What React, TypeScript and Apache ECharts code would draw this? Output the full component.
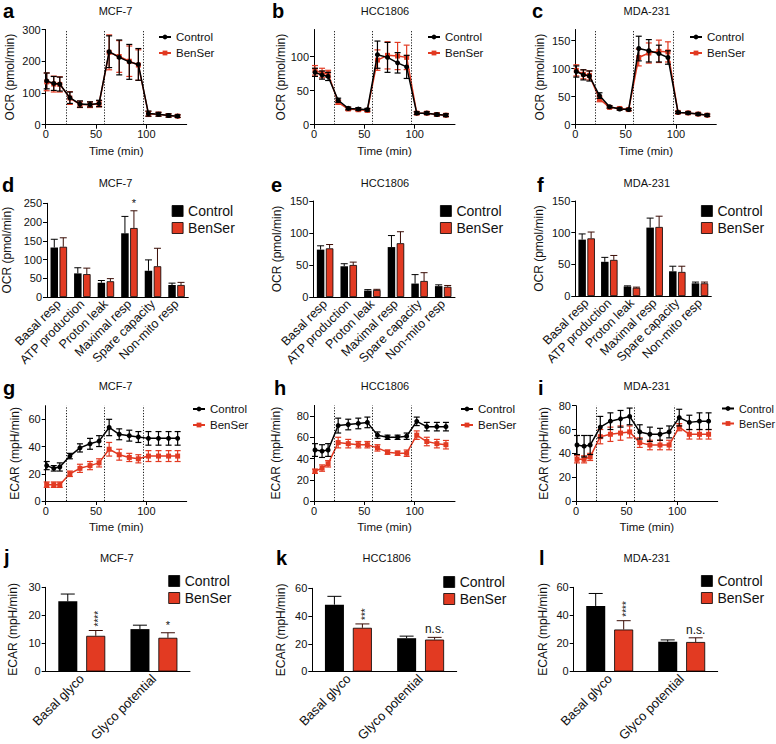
import React, { useEffect, useRef } from 'react';
import * as echarts from 'echarts';

const FONT = '"Liberation Sans", Arial, Helvetica, sans-serif';
const RED = '#e23a22';
const INK = '#111111';

// ---------- shared ----------
const timePoints = [1, 8, 14, 24, 34, 44, 53, 63, 73, 83, 92, 102, 112, 122, 131];
const injectionTimes = [20, 58, 97];
const timeTicks = [0, 50, 100];
const ocrCats = ['Basal resp', 'ATP production', 'Proton leak', 'Maximal resp', 'Spare capacity', 'Non-mito resp'];
const ecarCats = ['Basal glyco', 'Glyco potential'];

// ---------- a: OCR MCF-7 ----------
const ocrMcfCtrl = [138, 130, 128, 85, 65, 64, 67, 230, 212, 198, 190, 35, 33, 29, 27];
const ocrMcfCtrlErr = [25, 22, 22, 18, 10, 8, 10, 50, 55, 55, 50, 8, 6, 5, 4];
const ocrMcfBen = [135, 128, 127, 84, 64, 63, 66, 228, 215, 200, 188, 34, 33, 29, 27];
const ocrMcfBenErr = [28, 25, 24, 20, 10, 9, 10, 55, 50, 48, 48, 8, 6, 5, 4];
const ocrMcfTicks = [0, 100, 200, 300];

// ---------- b: OCR HCC1806 ----------
const ocrHccCtrl = [77, 73, 71, 36, 24, 23, 22, 103, 99, 91, 85, 17, 17, 15, 14];
const ocrHccCtrlErr = [6, 6, 6, 3, 2, 2, 2, 20, 22, 15, 17, 2, 2, 2, 2];
const ocrHccBen = [80, 76, 75, 33, 23, 22, 21, 95, 102, 101, 99, 17, 17, 15, 14];
const ocrHccBenErr = [7, 7, 5, 3, 2, 2, 2, 15, 20, 20, 18, 2, 2, 2, 2];
const ocrHccTicks = [0, 50, 100];

// ---------- c: OCR MDA-231 ----------
const ocrMdaCtrl = [95, 89, 87, 52, 32, 28, 27, 136, 132, 127, 120, 22, 21, 19, 17];
const ocrMdaCtrlErr = [10, 9, 9, 5, 2, 2, 2, 22, 20, 15, 12, 2, 2, 2, 2];
const ocrMdaBen = [97, 90, 88, 46, 31, 29, 27, 120, 128, 131, 130, 22, 21, 19, 17];
const ocrMdaBenErr = [10, 8, 8, 5, 2, 2, 2, 15, 18, 20, 18, 2, 2, 2, 2];
const ocrMdaTicks = [0, 50, 100, 150];

// ---------- d/e/f: OCR parameters ----------
const mcfParCtrl = [132, 63, 38, 170, 70, 32];
const mcfParCtrlErr = [22, 15, 6, 45, 29, 5];
const mcfParBen = [134, 61, 42, 184, 82, 32];
const mcfParBenErr = [24, 16, 7, 46, 48, 7];
const mcfParSig = ['', '', '', '*', '', ''];
const mcfParTicks = [0, 50, 100, 150, 200, 250];

const hccParCtrl = [74, 48, 10, 78, 21, 17];
const hccParCtrlErr = [6, 4, 1.5, 18, 14, 2];
const hccParBen = [76, 50, 11, 84, 25, 16];
const hccParBenErr = [6, 4.5, 1, 18, 13, 2];
const hccParTicks = [0, 50, 100, 150];

const mdaParCtrl = [89, 54, 15, 108, 39, 20];
const mdaParCtrlErr = [9, 7, 1, 15, 8, 2];
const mdaParBen = [91, 57, 13, 109, 38, 20];
const mdaParBenErr = [10, 7, 1, 17, 9, 2];
const mdaParTicks = [0, 50, 100, 150];

// ---------- g/h/i: ECAR time courses ----------
const ecarMcfCtrl = [26, 24, 25, 33, 39, 42, 44, 54, 49, 48, 47, 46, 46, 46, 46];
const ecarMcfCtrlErr = [3, 2, 3, 2, 3, 4, 4, 6, 4, 4, 4, 5, 5, 5, 5];
const ecarMcfBen = [12, 12, 12, 20, 24, 26, 28, 38, 34, 32, 31, 33, 33, 33, 33];
const ecarMcfBenErr = [2, 2, 2, 2, 3, 3, 3, 5, 4, 3, 3, 4, 4, 4, 4];
const ecarMcfTicks = [0, 20, 40, 60];

const ecarHccCtrl = [48, 47, 48, 71, 72, 73, 74, 62, 60, 60, 61, 75, 70, 70, 70];
const ecarHccCtrlErr = [6, 6, 6, 7, 5, 5, 5, 3, 2, 2, 3, 4, 4, 4, 4];
const ecarHccBen = [28, 31, 35, 55, 54, 53, 53, 50, 46, 45, 45, 62, 56, 54, 53];
const ecarHccBenErr = [2, 3, 3, 5, 4, 3, 3, 3, 2, 2, 3, 4, 4, 4, 4];
const ecarHccTicks = [0, 20, 40, 60, 80];

const ecarMdaCtrl = [47, 46, 47, 62, 67, 69, 71, 58, 56, 56, 58, 70, 66, 67, 67];
const ecarMdaCtrlErr = [8, 9, 8, 9, 7, 7, 7, 6, 6, 5, 5, 7, 6, 7, 7];
const ecarMdaBen = [35, 35, 37, 54, 56, 57, 58, 49, 47, 47, 47, 62, 56, 56, 56];
const ecarMdaBenErr = [3, 3, 3, 6, 6, 6, 5, 4, 4, 4, 4, 3, 4, 4, 4];
const ecarMdaTicks = [0, 20, 40, 60, 80];

// ---------- j/k/l: ECAR parameters ----------
const mcfGlyCtrl = [25, 15.1];
const mcfGlyCtrlErr = [2.6, 1.4];
const mcfGlyBen = [12.7, 12];
const mcfGlyBenErr = [1.9, 1.8];
const mcfGlySig = ['****', '*'];
const mcfGlyTicks = [0, 10, 20, 30];

const hccGlyCtrl = [48.2, 24];
const hccGlyCtrlErr = [6, 1.5];
const hccGlyBen = [31.5, 23];
const hccGlyBenErr = [2.8, 1.6];
const hccGlySig = ['***', 'n.s.'];
const hccGlyTicks = [0, 20, 40, 60];

const mdaGlyCtrl = [46.7, 21.2];
const mdaGlyCtrlErr = [8.9, 1.3];
const mdaGlyBen = [29.9, 21];
const mdaGlyBenErr = [6.3, 3];
const mdaGlySig = ['****', 'n.s.'];
const mdaGlyTicks = [0, 20, 40, 60];

// ---------- panel definitions ----------
type LineP = {
  letter: string; title: string; yName: string; yMax: number; ticks: number[];
  ctrl: number[]; ctrlErr: number[]; ben: number[]; benErr: number[];
  grid: any; legend: any; legendSize: number; yGap: number; titleX: number; titleY: number; letterX: number; letterY: number;
};
type BarP = {
  letter: string; title: string; yName: string; yMax: number; ticks: number[]; cats: string[];
  ctrl: number[]; ctrlErr: number[]; ben: number[]; benErr: number[]; sig: string[];
  grid: any; legend: any; yGap: number; titleX: number; titleY: number; letterX: number; letterY: number;
  barW: number; barGap: number; cap: number; labelSize: number;
};

const linePanels: LineP[] = [
  { letter: 'a', title: 'MCF-7', yName: 'OCR (pmol/min)', yMax: 300, ticks: ocrMcfTicks,
    ctrl: ocrMcfCtrl, ctrlErr: ocrMcfCtrlErr, ben: ocrMcfBen, benErr: ocrMcfBenErr,
    grid: { left: 45.7, top: 29.5, width: 141, height: 95.2 }, legend: { left: 158, top: 31 }, legendSize: 11.5, yGap: 30,
    titleX: 115.5, titleY: 11, letterX: 3, letterY: 10.5 },
  { letter: 'b', title: 'HCC1806', yName: 'OCR (pmol/min)', yMax: 140, ticks: ocrHccTicks,
    ctrl: ocrHccCtrl, ctrlErr: ocrHccCtrlErr, ben: ocrHccBen, benErr: ocrHccBenErr,
    grid: { left: 314, top: 29.5, width: 141, height: 95.2 }, legend: { left: 427, top: 31 }, legendSize: 11.5, yGap: 27,
    titleX: 385, titleY: 11, letterX: 272, letterY: 10.5 },
  { letter: 'c', title: 'MDA-231', yName: 'OCR (pmol/min)', yMax: 170, ticks: ocrMdaTicks,
    ctrl: ocrMdaCtrl, ctrlErr: ocrMdaCtrlErr, ben: ocrMdaBen, benErr: ocrMdaBenErr,
    grid: { left: 575.3, top: 29.5, width: 141, height: 95.2 }, legend: { left: 689, top: 31 }, legendSize: 11.5, yGap: 29,
    titleX: 646.8, titleY: 11, letterX: 532, letterY: 10.5 },
  { letter: 'g', title: 'MCF-7', yName: 'ECAR (mpH/min)', yMax: 70, ticks: ecarMcfTicks,
    ctrl: ecarMcfCtrl, ctrlErr: ecarMcfCtrlErr, ben: ecarMcfBen, benErr: ecarMcfBenErr,
    grid: { left: 45.7, top: 405.7, width: 141, height: 95.3 }, legend: { left: 192, top: 403 }, legendSize: 11.5, yGap: 25,
    titleX: 115.5, titleY: 386, letterX: 3, letterY: 388 },
  { letter: 'h', title: 'HCC1806', yName: 'ECAR (mpH/min)', yMax: 90, ticks: ecarHccTicks,
    ctrl: ecarHccCtrl, ctrlErr: ecarHccCtrlErr, ben: ecarHccBen, benErr: ecarHccBenErr,
    grid: { left: 314, top: 405.4, width: 141, height: 95.6 }, legend: { left: 460, top: 403 }, legendSize: 11.5, yGap: 32,
    titleX: 385, titleY: 386, letterX: 274, letterY: 388 },
  { letter: 'i', title: 'MDA-231', yName: 'ECAR (mpH/min)', yMax: 80, ticks: ecarMdaTicks,
    ctrl: ecarMdaCtrl, ctrlErr: ecarMdaCtrlErr, ben: ecarMdaBen, benErr: ecarMdaBenErr,
    grid: { left: 576, top: 405.7, width: 141.7, height: 95.3 }, legend: { left: 721, top: 403 }, legendSize: 10.8, yGap: 26,
    titleX: 646.8, titleY: 386, letterX: 538, letterY: 388 },
];

const barPanels: BarP[] = [
  { letter: 'd', title: 'MCF-7', yName: 'OCR (pmol/min)', yMax: 250, ticks: mcfParTicks, cats: ocrCats,
    ctrl: mcfParCtrl, ctrlErr: mcfParCtrlErr, ben: mcfParBen, benErr: mcfParBenErr, sig: mcfParSig,
    grid: { left: 45.7, top: 203.3, width: 142.6, height: 93.7 }, legend: { left: 171.7, top: 204 }, yGap: 34,
    titleX: 115.5, titleY: 183, letterX: 2, letterY: 184.5, barW: 7.5, barGap: 1.5, cap: 3.5, labelSize: 12.5 },
  { letter: 'e', title: 'HCC1806', yName: 'OCR (pmol/min)', yMax: 150, ticks: hccParTicks, cats: ocrCats,
    ctrl: hccParCtrl, ctrlErr: hccParCtrlErr, ben: hccParBen, benErr: hccParBenErr, sig: ['', '', '', '', '', ''],
    grid: { left: 313.3, top: 201, width: 141.7, height: 96 }, legend: { left: 440, top: 204 }, yGap: 30,
    titleX: 385, titleY: 183, letterX: 271, letterY: 184.5, barW: 7.5, barGap: 1.5, cap: 3.5, labelSize: 12.5 },
  { letter: 'f', title: 'MDA-231', yName: 'OCR (pmol/min)', yMax: 150, ticks: mdaParTicks, cats: ocrCats,
    ctrl: mdaParCtrl, ctrlErr: mdaParCtrlErr, ben: mdaParBen, benErr: mdaParBenErr, sig: ['', '', '', '', '', ''],
    grid: { left: 575.3, top: 201, width: 136, height: 95 }, legend: { left: 701, top: 204 }, yGap: 30,
    titleX: 646.8, titleY: 183, letterX: 537, letterY: 184.5, barW: 7.5, barGap: 1.5, cap: 3.5, labelSize: 12.5 },
  { letter: 'j', title: 'MCF-7', yName: 'ECAR (mpH/min)', yMax: 30, ticks: mcfGlyTicks, cats: ecarCats,
    ctrl: mcfGlyCtrl, ctrlErr: mcfGlyCtrlErr, ben: mcfGlyBen, benErr: mcfGlyBenErr, sig: mcfGlySig,
    grid: { left: 45.7, top: 587.3, width: 144.3, height: 94.4 }, legend: { left: 168.3, top: 574 }, yGap: 27,
    titleX: 116.7, titleY: 558, letterX: 4, letterY: 556.5, barW: 19, barGap: 9, cap: 7, labelSize: 13 },
  { letter: 'k', title: 'HCC1806', yName: 'ECAR (mpH/min)', yMax: 60, ticks: hccGlyTicks, cats: ecarCats,
    ctrl: hccGlyCtrl, ctrlErr: hccGlyCtrlErr, ben: hccGlyBen, benErr: hccGlyBenErr, sig: hccGlySig,
    grid: { left: 312.3, top: 588.3, width: 144.4, height: 93.4 }, legend: { left: 443.3, top: 575 }, yGap: 25,
    titleX: 386.7, titleY: 558, letterX: 276, letterY: 557.5, barW: 19, barGap: 9, cap: 7, labelSize: 13 },
  { letter: 'l', title: 'MDA-231', yName: 'ECAR (mpH/min)', yMax: 60, ticks: mdaGlyTicks, cats: ecarCats,
    ctrl: mdaGlyCtrl, ctrlErr: mdaGlyCtrlErr, ben: mdaGlyBen, benErr: mdaGlyBenErr, sig: mdaGlySig,
    grid: { left: 573.7, top: 587.3, width: 144, height: 95 }, legend: { left: 701, top: 574 }, yGap: 25,
    titleX: 646.8, titleY: 558, letterX: 539, letterY: 557.5, barW: 19, barGap: 9, cap: 7, labelSize: 13 },
];

// ---------- renderers ----------
function lineErr(color: string) {
  return (params: any, api: any) => {
    const x = api.value(0), y = api.value(1), e = api.value(2);
    const t = api.coord([x, y + e]);
    const b = api.coord([x, y - e]);
    const st = { stroke: color, lineWidth: 1.2 };
    const c = 3;
    return {
      type: 'group',
      children: [
        { type: 'line', shape: { x1: t[0], y1: t[1], x2: b[0], y2: b[1] }, style: st },
        { type: 'line', shape: { x1: t[0] - c, y1: t[1], x2: t[0] + c, y2: t[1] }, style: st },
        { type: 'line', shape: { x1: b[0] - c, y1: b[1], x2: b[0] + c, y2: b[1] }, style: st },
      ],
    };
  };
}

function barErr(color: string, offset: number, cap: number, sig: string[] | null) {
  return (params: any, api: any) => {
    const i = api.value(0), v = api.value(1), e = api.value(2);
    const base = api.coord([i, v]);
    const top = api.coord([i, v + e]);
    const x = base[0] + offset;
    const st = { stroke: color, lineWidth: 1 };
    const children: any[] = [
      { type: 'line', shape: { x1: x, y1: base[1], x2: x, y2: top[1] }, style: st },
      { type: 'line', shape: { x1: x - cap, y1: top[1], x2: x + cap, y2: top[1] }, style: st },
    ];
    const s = sig ? sig[params.dataIndex] : '';
    if (s) {
      if (s === 'n.s.' || s.length === 1) {
        children.push({ type: 'text', x, y: top[1] - 2,
          style: { text: s, align: 'center', verticalAlign: 'bottom', fontSize: s.length === 1 ? 11 : 12, fontFamily: FONT, fill: INK } });
      } else {
        children.push({ type: 'text', x: x + 3, y: top[1] - 4, rotation: Math.PI / 2,
          style: { text: s, align: 'left', verticalAlign: 'middle', fontSize: 10, fontFamily: FONT, fill: INK } });
      }
    }
    return { type: 'group', children };
  };
}

function buildOption() {
  const grid: any[] = [], xAxis: any[] = [], yAxis: any[] = [], series: any[] = [], legend: any[] = [], graphic: any[] = [];
  const lineAxis = { show: true, lineStyle: { color: '#000', width: 1 } };
  const tickStyle = { lineStyle: { color: '#000', width: 1 } };
  const labelStyle = { color: INK, fontSize: 11, fontFamily: FONT, fontWeight: 'normal' };

  const addText = (p: any) => {
    graphic.push({ type: 'text', x: p.titleX, y: p.titleY,
      style: { text: p.title, align: 'center', verticalAlign: 'middle', fontSize: 11, fontFamily: FONT, fill: INK } });
    graphic.push({ type: 'text', x: p.letterX, y: p.letterY,
      style: { text: p.letter, align: 'left', verticalAlign: 'middle', fontSize: 20, fontWeight: 'bold', fontFamily: FONT, fill: '#000' } });
  };

  const yAx = (gi: number, p: any) => ({
    type: 'value', gridIndex: gi, min: 0, max: p.yMax, interval: p.ticks[1] - p.ticks[0],
    name: p.yName, nameLocation: 'middle', nameGap: p.yGap,
    nameTextStyle: { fontSize: 12, fontFamily: FONT, color: INK, fontWeight: 'normal' },
    axisLine: lineAxis,
    axisTick: { show: true, length: 4, customValues: p.ticks, ...tickStyle },
    axisLabel: { ...labelStyle, margin: 5, customValues: p.ticks },
    splitLine: { show: false },
  });

  let gi = 0;
  for (const p of linePanels) {
    grid.push({ ...p.grid, containLabel: false });
    xAxis.push({
      type: 'value', gridIndex: gi, min: 0, max: 140, interval: 50,
      name: 'Time (min)', nameLocation: 'middle', nameGap: 20,
      nameTextStyle: { fontSize: 11.5, fontFamily: FONT, color: INK, fontWeight: 'normal' },
      axisLine: lineAxis,
      axisTick: { show: true, length: 4, customValues: timeTicks, ...tickStyle },
      axisLabel: { ...labelStyle, margin: 4, customValues: timeTicks },
      splitLine: { show: false },
    });
    yAxis.push(yAx(gi, p));
    series.push({
      type: 'line', name: 'BenSer', xAxisIndex: gi, yAxisIndex: gi,
      data: timePoints.map((t, i) => [t, p.ben[i]]),
      color: RED, symbol: 'rect', symbolSize: 5, lineStyle: { width: 1.5, color: RED },
      itemStyle: { color: RED }, z: 2,
      markLine: {
        silent: true, symbol: ['none', 'none'], label: { show: false },
        lineStyle: { color: '#000', type: [1.2, 1.6], width: 0.9 },
        emphasis: { disabled: true },
        data: injectionTimes.map((x) => ({ xAxis: x })),
      },
    });
    series.push({
      type: 'custom', name: 'errB', xAxisIndex: gi, yAxisIndex: gi, z: 2,
      data: timePoints.map((t, i) => [t, p.ben[i], p.benErr[i]]), encode: { x: 0, y: 1 },
      renderItem: lineErr(RED),
    });
    series.push({
      type: 'line', name: 'Control', xAxisIndex: gi, yAxisIndex: gi,
      data: timePoints.map((t, i) => [t, p.ctrl[i]]),
      color: '#000', symbol: 'circle', symbolSize: 5, lineStyle: { width: 1.5, color: '#000' },
      itemStyle: { color: '#000' }, z: 3,
    });
    series.push({
      type: 'custom', name: 'errC', xAxisIndex: gi, yAxisIndex: gi, z: 3,
      data: timePoints.map((t, i) => [t, p.ctrl[i], p.ctrlErr[i]]), encode: { x: 0, y: 1 },
      renderItem: lineErr('#000'),
    });
    legend.push({
      ...p.legend, orient: 'vertical', padding: 0, itemWidth: 12, itemHeight: 6, itemGap: 4,
      selectedMode: false, data: ['Control', 'BenSer'],
      textStyle: { fontSize: p.legendSize, fontFamily: FONT, color: INK },
    });
    addText(p);
    gi++;
  }

  for (const p of barPanels) {
    grid.push({ ...p.grid, containLabel: false });
    xAxis.push({
      type: 'category', gridIndex: gi, data: p.cats,
      axisLine: lineAxis, axisTick: { show: false },
      axisLabel: { color: INK, fontSize: p.labelSize, fontFamily: FONT, rotate: 45, interval: 0, margin: 5 },
      splitLine: { show: false },
    });
    yAxis.push(yAx(gi, p));
    const off = (p.barW + p.barGap) / 2;
    const gapPct = Math.round((p.barGap / p.barW) * 100) + '%';
    series.push({
      type: 'bar', name: 'Control', xAxisIndex: gi, yAxisIndex: gi, data: p.ctrl,
      barWidth: p.barW, barGap: gapPct, itemStyle: { color: '#000' },
    });
    series.push({
      type: 'bar', name: 'BenSer', xAxisIndex: gi, yAxisIndex: gi, data: p.ben,
      barWidth: p.barW, barGap: gapPct, itemStyle: { color: RED, borderColor: '#000', borderWidth: 0.8 },
    });
    series.push({
      type: 'custom', name: 'errC', xAxisIndex: gi, yAxisIndex: gi, z: 3,
      data: p.ctrl.map((v, i) => [i, v, p.ctrlErr[i]]), encode: { x: 0, y: 1 },
      renderItem: barErr('#000', -off, p.cap, null),
    });
    series.push({
      type: 'custom', name: 'errB', xAxisIndex: gi, yAxisIndex: gi, z: 3,
      data: p.ben.map((v, i) => [i, v, p.benErr[i]]), encode: { x: 0, y: 1 },
      renderItem: barErr('#3a0d06', off, p.cap, p.sig),
    });
    legend.push({
      ...p.legend, orient: 'vertical', padding: 0, icon: 'rect', itemWidth: 11, itemHeight: 11, itemGap: 3,
      selectedMode: false, data: ['Control', 'BenSer'],
      itemStyle: { borderColor: '#000', borderWidth: 0.8 },
      textStyle: { fontSize: 14, fontFamily: FONT, color: INK },
    });
    addText(p);
    gi++;
  }

  return {
    animation: false,
    backgroundColor: '#ffffff',
    textStyle: { fontFamily: FONT },
    grid, xAxis, yAxis, series, legend, graphic,
  };
}

export default function App() {
  const ref = useRef<HTMLDivElement>(null);
  useEffect(() => {
    const chart = echarts.init(ref.current as HTMLDivElement, null, { renderer: 'svg', width: 776, height: 744 });
    chart.setOption(buildOption() as any);
    return () => chart.dispose();
  }, []);
  return (
    <div
      ref={ref}
      style={{ position: 'absolute', left: 0, top: 0, width: 776, height: 744, background: '#fff' }}
    />
  );
}
